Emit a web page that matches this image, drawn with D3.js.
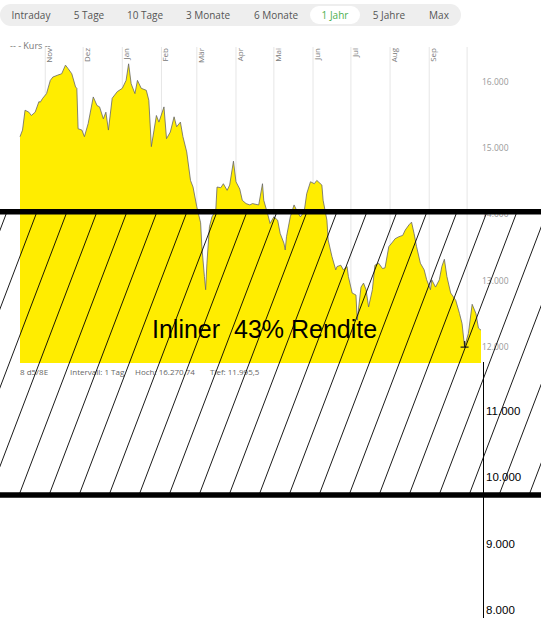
<!DOCTYPE html>
<meta charset="utf-8" />
<style>
  body { margin: 0; background: #fff; }
  svg { display: block; font-family: "Open Sans", Lato, sans-serif; }
</style>
<body>
<div id="chart"></div>
<script src="https://d3js.org/d3.v7.min.js"></script>
<script>
// tabs of the range selector
const tabs = ["Intraday", "5 Tage", "10 Tage", "3 Monate", "6 Monate", "1 Jahr", "5 Jahre", "Max"];
const tabCenters = [31, 89, 145, 208, 276, 335, 389, 439];
const activeTab = "1 Jahr";

// month labels shown on the x axis
const monthLabels = ["Nov", "Dez", "Jan", "Feb", "Mär", "Apr", "Mai", "Jun", "Jul", "Aug", "Sep"];

// price series
const dates = [
  "2021-10-12","2021-10-14","2021-10-16","2021-10-19","2021-10-21","2021-10-24","2021-10-27","2021-10-28","2021-10-30",
  "2021-11-02","2021-11-05","2021-11-07","2021-11-11","2021-11-14","2021-11-17","2021-11-19","2021-11-22","2021-11-25","2021-11-26","2021-11-27","2021-11-30",
  "2021-12-02","2021-12-05","2021-12-09","2021-12-12","2021-12-14","2021-12-17","2021-12-19","2021-12-21","2021-12-24","2021-12-28",
  "2022-01-01","2022-01-04","2022-01-06","2022-01-08","2022-01-11","2022-01-13","2022-01-16","2022-01-20","2022-01-22","2022-01-24","2022-01-28","2022-01-30",
  "2022-02-03","2022-02-05","2022-02-08","2022-02-11","2022-02-13","2022-02-16","2022-02-18","2022-02-21","2022-02-24","2022-02-26",
  "2022-03-01","2022-03-04","2022-03-05","2022-03-07","2022-03-08","2022-03-09","2022-03-11","2022-03-13","2022-03-16","2022-03-17","2022-03-20","2022-03-22","2022-03-25","2022-03-27","2022-03-30",
  "2022-04-01","2022-04-04","2022-04-06","2022-04-09","2022-04-12","2022-04-14","2022-04-19","2022-04-22","2022-04-23","2022-04-26","2022-04-28",
  "2022-05-01","2022-05-04","2022-05-06","2022-05-09","2022-05-10","2022-05-11","2022-05-14","2022-05-17","2022-05-19","2022-05-22","2022-05-25","2022-05-27","2022-05-30",
  "2022-06-02","2022-06-04","2022-06-08","2022-06-09","2022-06-12","2022-06-13","2022-06-16","2022-06-19","2022-06-20","2022-06-23","2022-06-25","2022-06-28","2022-06-29",
  "2022-07-02","2022-07-05","2022-07-06","2022-07-09","2022-07-11","2022-07-13","2022-07-15","2022-07-18","2022-07-20","2022-07-23","2022-07-26","2022-07-28","2022-07-31",
  "2022-08-03","2022-08-05","2022-08-08","2022-08-11","2022-08-13","2022-08-16","2022-08-18","2022-08-20","2022-08-22","2022-08-25","2022-08-28","2022-08-30",
  "2022-09-02","2022-09-03","2022-09-06","2022-09-09","2022-09-11","2022-09-13","2022-09-15","2022-09-18","2022-09-22","2022-09-25","2022-09-27","2022-09-29",
  "2022-10-02","2022-10-05","2022-10-08","2022-10-10","2022-10-12"
];
const values = [
  15170,15270,15570,15540,15490,15540,15700,15690,15750,
  15820,16020,16070,16100,16120,16250,16200,16120,15920,15900,15290,15270,
  15170,15370,15770,15640,15620,15440,15540,15270,15750,15850,
  15900,16020,16270,15970,15820,16020,15900,15870,15720,15020,15490,15390,
  15620,15140,15240,15470,15320,15390,15170,14940,14510,14410,
  14110,13870,13510,13060,12860,13260,13810,13960,14060,14410,14400,14460,14360,14440,14800,
  14490,14380,14210,14160,14140,14160,14140,14460,14210,14010,13860,
  13960,13910,13710,13560,13460,13660,13960,14140,14060,13960,14040,14310,14490,
  14460,14510,14440,14210,13910,13610,13360,13160,13210,13230,13160,13210,13060,
  12810,12780,12400,12900,12960,12860,12600,12860,13230,13260,13180,13190,13510,
  13580,13630,13660,13680,13760,13840,13880,13710,13510,13260,13160,13010,
  12860,13010,12900,13010,13210,13320,13060,12810,12700,12500,12350,11995,
  12200,12640,12500,12280,12250
];

// y axis ticks: chart's own and the hand drawn extension
const smallTicks = [16000, 15000, 14000, 13000, 12000];
const bigTicks = [11000, 10000, 9000, 8000];

// the statistics line under the chart
const infoTexts = ["8 d5/8E", "Intervall: 1 Tag", "Hoch: 16.270,74", "Tief: 11.995,5"];
const infoX = [20, 70, 135, 210];

// two thick lines that bound the hatched band
const bandLevels = [14000, 9760];
const note = "Inliner  43% Rendite";

const W = 541, H = 618;
const parse = d3.timeParse("%Y-%m-%d");
const data = dates.map((d, i) => ({ date: parse(d), value: values[i] }));

const svg = d3.select("#chart").append("svg")
    .attr("width", W)
    .attr("height", H);

const x = d3.scaleTime()
    .domain(d3.extent(data, d => d.date))
    .range([20, 481]);

const y = d3.scaleLinear()
    .domain([12000, 16000])
    .range([346.7, 81.7]);

const plotTop = 47, plotBottom = 363;

// --- tab bar
svg.append("rect")
    .attr("x", 0).attr("y", 4)
    .attr("width", 461).attr("height", 22)
    .attr("rx", 11)
    .attr("fill", "#eeeeee");

const ai = tabs.indexOf(activeTab);
svg.append("rect")
    .attr("x", tabCenters[ai] - 25).attr("y", 6)
    .attr("width", 50).attr("height", 18)
    .attr("rx", 9)
    .attr("fill", "#ffffff");

svg.selectAll(".tab")
    .data(tabs)
    .join("text")
    .attr("x", (d, i) => tabCenters[i])
    .attr("y", 15)
    .attr("text-anchor", "middle")
    .attr("dominant-baseline", "central")
    .attr("font-size", "10px")
    .attr("fill", d => d === activeTab ? "#4caf50" : "#555")
    .text(d => d);

svg.append("text")
    .attr("x", 10).attr("y", 45)
    .attr("dominant-baseline", "central")
    .attr("font-size", "9px")
    .attr("fill", "#777")
    .attr("xml:space", "preserve")
    .style("white-space", "pre")
    .text("-- - Kurs --");

// --- month gridlines
const months = d3.timeMonth.range(d3.timeMonth.ceil(x.domain()[0]), x.domain()[1]);
svg.append("g")
    .selectAll("line")
    .data(months)
    .join("line")
    .attr("x1", d => x(d)).attr("x2", d => x(d))
    .attr("y1", plotTop).attr("y2", plotBottom)
    .attr("stroke", "#e6e6e6")
    .attr("stroke-width", 1);

svg.append("g")
    .selectAll("text")
    .data(months.slice(0, monthLabels.length))
    .join("text")
    .attr("transform", d => `translate(${x(d) + 7},48) rotate(-90)`)
    .attr("text-anchor", "end")
    .attr("font-size", "8px")
    .attr("fill", "#777")
    .text((d, i) => monthLabels[i]);

// --- price area
const area = d3.area()
    .x(d => x(d.date))
    .y0(plotBottom)
    .y1(d => y(d.value));

const line = d3.line()
    .x(d => x(d.date))
    .y(d => y(d.value));

svg.append("path")
    .datum(data)
    .attr("d", area)
    .attr("fill", "#ffed00");

svg.append("path")
    .datum(data)
    .attr("d", line)
    .attr("fill", "none")
    .attr("stroke", "#666")
    .attr("stroke-width", 0.8);

// low marker
const low = data.reduce((a, b) => (b.value < a.value ? b : a));
svg.append("path")
    .attr("d", `M${x(low.date) - 4},${y(low.value)}h8M${x(low.date)},${y(low.value)}v-6`)
    .attr("stroke", "#222")
    .attr("stroke-width", 1.2)
    .attr("fill", "none");

// chart's own y labels
const axSmall = svg.append("g")
    .attr("transform", "translate(480,0)")
    .call(d3.axisRight(y).tickValues(smallTicks).tickSize(0));
axSmall.select(".domain").remove();
axSmall.selectAll("text")
    .attr("x", 2)
    .attr("font-family", "'Open Sans', sans-serif")
    .attr("font-size", "8.5px")
    .attr("fill", "#999")
    .text(d => d3.format(",")(d).replace(",", "."));

// statistics line
svg.append("g")
    .selectAll("text")
    .data(infoTexts)
    .join("text")
    .attr("x", (d, i) => infoX[i])
    .attr("y", 371)
    .attr("dominant-baseline", "central")
    .attr("font-size", "8px")
    .attr("fill", "#666")
    .text(d => d);

// --- hand drawn overlay
svg.append("text")
    .attr("x", 152).attr("y", 338)
    .attr("font-family", "'Liberation Sans', Arial, sans-serif")
    .attr("font-size", "25px")
    .attr("fill", "#000")
    .attr("xml:space", "preserve")
    .style("white-space", "pre")
    .text(note);

const bandTop = y(bandLevels[0]) - 2.5, bandBottom = y(bandLevels[1]);
const shift = 108;
svg.append("g")
    .selectAll("line")
    .data(d3.range(7, W + shift + 30, 30))
    .join("line")
    .attr("x1", d => d).attr("y1", bandTop)
    .attr("x2", d => d - shift).attr("y2", bandBottom)
    .attr("stroke", "#000")
    .attr("stroke-width", 0.9);

svg.append("g")
    .selectAll("line")
    .data([bandTop, bandBottom])
    .join("line")
    .attr("x1", 0).attr("x2", W)
    .attr("y1", d => d).attr("y2", d => d)
    .attr("stroke", "#000")
    .attr("stroke-width", 5.5);

svg.append("line")
    .attr("x1", 483.5).attr("x2", 483.5)
    .attr("y1", plotBottom - 1).attr("y2", H)
    .attr("stroke", "#000")
    .attr("stroke-width", 1);

const axBig = svg.append("g")
    .attr("transform", "translate(484,-2)")
    .call(d3.axisRight(y).tickValues(bigTicks).tickSize(0));
axBig.select(".domain").remove();
axBig.selectAll("text")
    .attr("x", 2)
    .attr("font-family", "'Liberation Sans', Arial, sans-serif")
    .attr("font-size", "11.5px")
    .attr("fill", "#000")
    .text(d => d3.format(",")(d).replace(",", "."));
</script>
</body>
